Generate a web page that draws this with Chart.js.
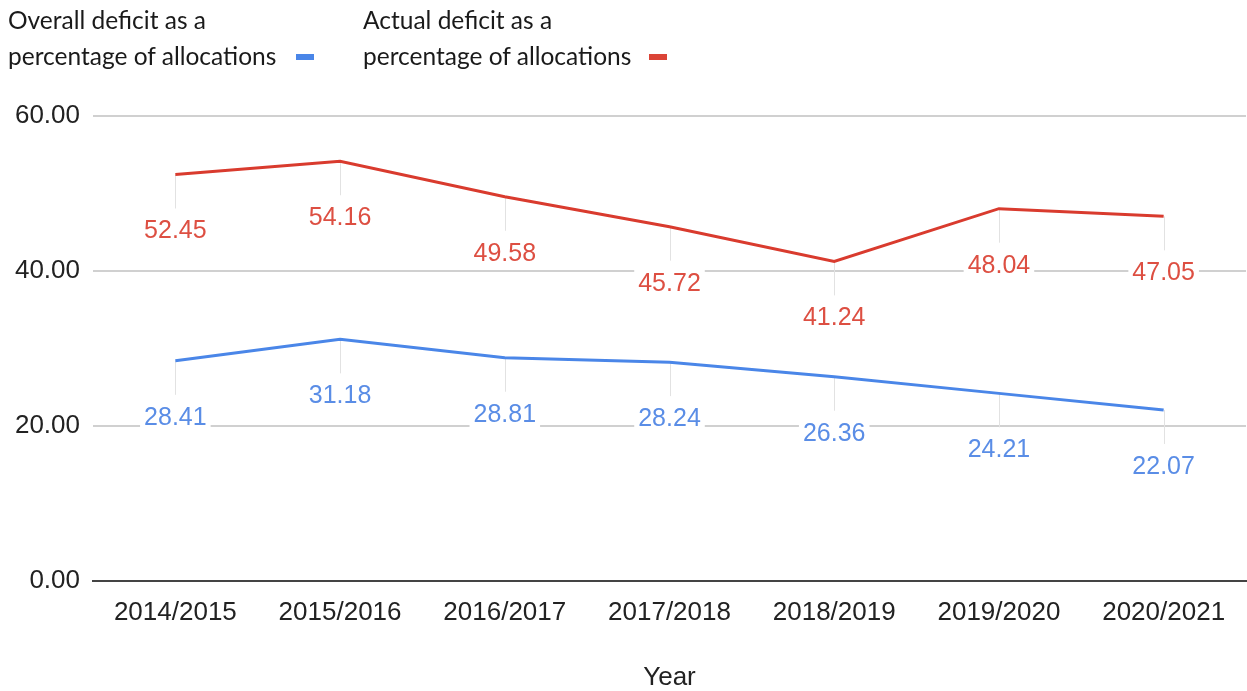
<!DOCTYPE html>
<html>
<head>
<meta charset="utf-8">
<script src="https://cdn.jsdelivr.net/npm/chart.js@4.4.0/dist/chart.umd.min.js"></script>
<style>
  html, body { margin: 0; padding: 0; background: #fff; }
  #wrap { position: relative; width: 1247px; height: 691px; overflow: hidden; }
  #c { position: absolute; left: 0; top: 0; }
  .lg { position: absolute; font-family: Lato, "Noto Sans", sans-serif; font-size: 24.5px; color: #1a1a1a; line-height: 36px; white-space: nowrap; }
  .mk { position: absolute; width: 18px; height: 6px; }
</style>
</head>
<body>
<div id="wrap">
  <canvas id="c" width="1247" height="691"></canvas>
  <div class="lg" id="lg1" style="left:8px; top:2px;">Overall deficit as a<br>percentage of allocations</div>
  <div class="mk" style="left:296px; top:54px; background:#4a86e8;"></div>
  <div class="lg" id="lg2" style="left:363px; top:2px;">Actual deficit as a<br>percentage of allocations</div>
  <div class="mk" style="left:649px; top:54px; background:#db4437;"></div>
</div>
<script>
const categories = ["2014/2015", "2015/2016", "2016/2017", "2017/2018", "2018/2019", "2019/2020", "2020/2021"];
const overallDeficit = [28.41, 31.18, 28.81, 28.24, 26.36, 24.21, 22.07];
const actualDeficit = [52.45, 54.16, 49.58, 45.72, 41.24, 48.04, 47.05];
const yTicks = [0, 20, 40, 60];
const seriesNames = ["Overall deficit as a percentage of allocations", "Actual deficit as a percentage of allocations"];
const xTitle = "Year";

const BLUE = "#4a86e8", RED = "#d93b2e";
const BLUE_LBL = "#5a8de6", RED_LBL = "#dd4f42";
const FONT = "'Liberation Sans', Arial, sans-serif";

const labelPlugin = {
  id: 'pointLabels',
  beforeDatasetsDraw(chart) {
    const ctx = chart.ctx;
    ctx.save();
    ctx.strokeStyle = "#e2e2e2";
    ctx.lineWidth = 1;
    chart.data.datasets.forEach((ds, i) => {
      chart.getDatasetMeta(i).data.forEach(pt => {
        ctx.beginPath();
        ctx.moveTo(Math.round(pt.x) + 0.5, pt.y);
        ctx.lineTo(Math.round(pt.x) + 0.5, pt.y + 34);
        ctx.stroke();
      });
    });
    ctx.restore();
  },
  afterDatasetsDraw(chart) {
    const ctx = chart.ctx;
    ctx.save();
    ctx.font = "25px " + FONT;
    ctx.textAlign = "center";
    ctx.textBaseline = "middle";
    chart.data.datasets.forEach((ds, i) => {
      const col = i === 0 ? BLUE_LBL : RED_LBL;
      chart.getDatasetMeta(i).data.forEach((pt, j) => {
        const txt = ds.data[j].toFixed(2);
        const w = ctx.measureText(txt).width;
        const cy = pt.y + 57;
        ctx.fillStyle = "#fff";
        ctx.fillRect(pt.x - w / 2 - 4, cy - 14, w + 8, 28);
        ctx.fillStyle = col;
        ctx.fillText(txt, pt.x, cy);
      });
    });
    ctx.restore();
  }
};

new Chart(document.getElementById('c'), {
  type: 'line',
  data: {
    labels: categories,
    datasets: [
      { label: seriesNames[0], data: overallDeficit, borderColor: BLUE, backgroundColor: BLUE, borderWidth: 3, pointRadius: 0, tension: 0 },
      { label: seriesNames[1], data: actualDeficit, borderColor: RED, backgroundColor: RED, borderWidth: 3, pointRadius: 0, tension: 0 }
    ]
  },
  options: {
    responsive: false,
    animation: false,
    layout: { padding: { top: 116, right: 1, bottom: 0, left: 0 } },
    plugins: { legend: { display: false }, tooltip: { enabled: false } },
    scales: {
      x: {
        offset: true,
        grid: { display: false },
        border: { display: true, color: "#444", width: 2 },
        ticks: { color: "#222", font: { family: FONT, size: 26 }, padding: 8, maxRotation: 0 },
        title: { display: true, text: xTitle, color: "#222", font: { family: FONT, size: 26, lineHeight: 1 }, padding: 0 },
        afterFit(scale) { scale.height = 110; }
      },
      y: {
        min: 0, max: 60,
        afterBuildTicks(scale) { scale.ticks = yTicks.map(v => ({ value: v })); },
        grid: { color: ctx => ctx.tick && ctx.tick.value === 0 ? "rgba(0,0,0,0)" : "#d0d0d0", lineWidth: 2, drawTicks: false },
        border: { display: false },
        ticks: { color: "#222", font: { family: FONT, size: 26 }, padding: 13, callback: v => Number(v).toFixed(2) },
        afterFit(scale) { scale.width = 93; }
      }
    }
  },
  plugins: [labelPlugin]
});
</script>
</body>
</html>
